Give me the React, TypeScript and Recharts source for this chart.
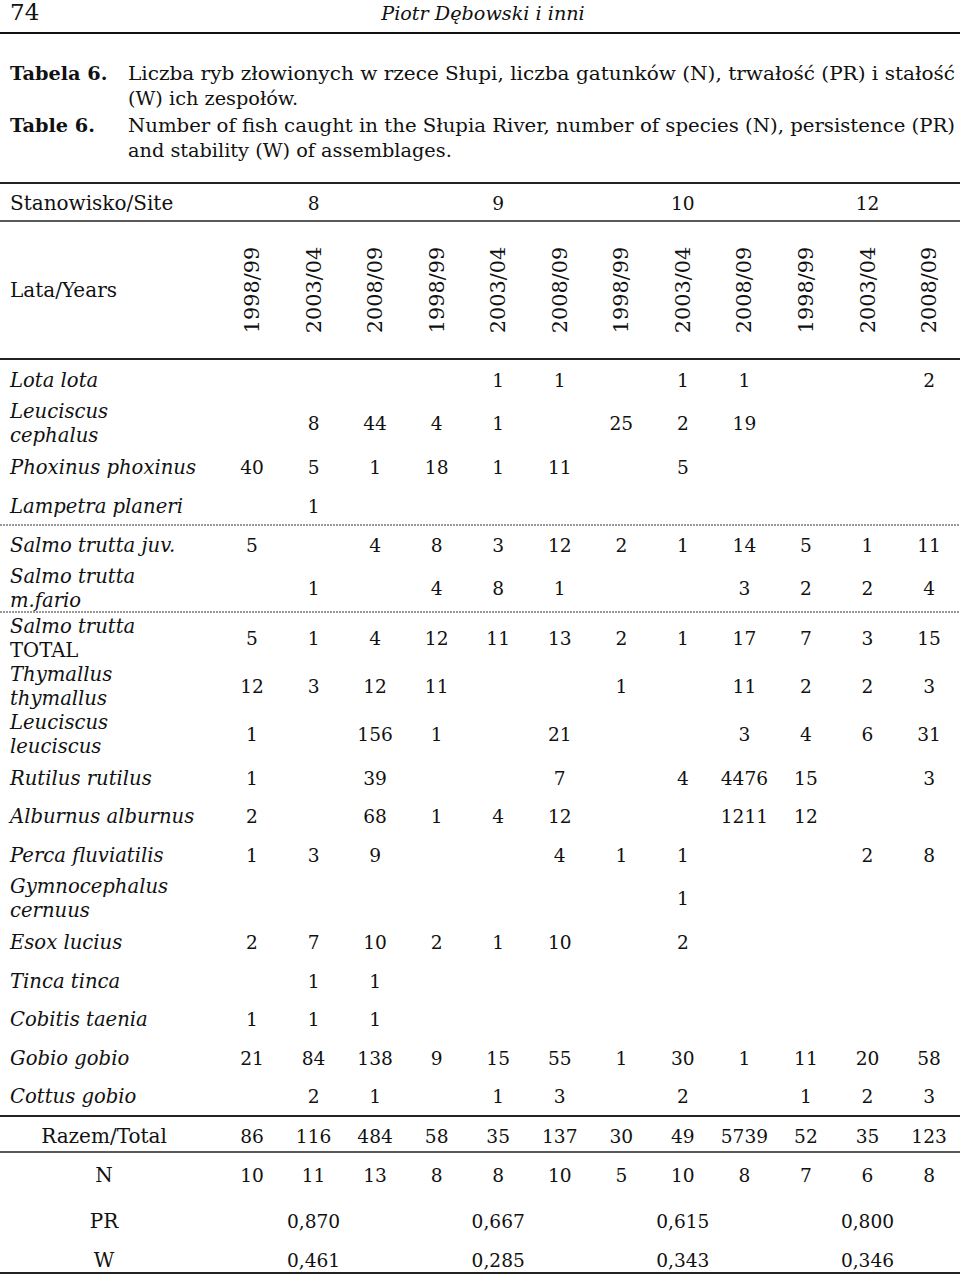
import React from "react";
import { ScatterChart, Scatter, XAxis, YAxis, ReferenceLine } from "recharts";

// ---------- DATA ----------
const sites = ["8", "9", "10", "12"];
const years = ["1998/99", "2003/04", "2008/09"];
type V = number | null;
const speciesLabels: string[][] = [
  ["Lota lota"],
  ["Leuciscus", "cephalus"],
  ["Phoxinus phoxinus"],
  ["Lampetra planeri"],
  ["Salmo trutta juv."],
  ["Salmo trutta", "m.fario"],
  ["Salmo trutta", "TOTAL"],
  ["Thymallus", "thymallus"],
  ["Leuciscus", "leuciscus"],
  ["Rutilus rutilus"],
  ["Alburnus alburnus"],
  ["Perca fluviatilis"],
  ["Gymnocephalus", "cernuus"],
  ["Esox lucius"],
  ["Tinca tinca"],
  ["Cobitis taenia"],
  ["Gobio gobio"],
  ["Cottus gobio"],
];
const _ = null;
const lotaLota: V[] = [_, _, _, _, 1, 1, _, 1, 1, _, _, 2];
const leuciscusCephalus: V[] = [_, 8, 44, 4, 1, _, 25, 2, 19, _, _, _];
const phoxinusPhoxinus: V[] = [40, 5, 1, 18, 1, 11, _, 5, _, _, _, _];
const lampetraPlaneri: V[] = [_, 1, _, _, _, _, _, _, _, _, _, _];
const salmoJuv: V[] = [5, _, 4, 8, 3, 12, 2, 1, 14, 5, 1, 11];
const salmoFario: V[] = [_, 1, _, 4, 8, 1, _, _, 3, 2, 2, 4];
const salmoTotal: V[] = [5, 1, 4, 12, 11, 13, 2, 1, 17, 7, 3, 15];
const thymallus: V[] = [12, 3, 12, 11, _, _, 1, _, 11, 2, 2, 3];
const leuciscusLeuciscus: V[] = [1, _, 156, 1, _, 21, _, _, 3, 4, 6, 31];
const rutilusRutilus: V[] = [1, _, 39, _, _, 7, _, 4, 4476, 15, _, 3];
const alburnusAlburnus: V[] = [2, _, 68, 1, 4, 12, _, _, 1211, 12, _, _];
const percaFluviatilis: V[] = [1, 3, 9, _, _, 4, 1, 1, _, _, 2, 8];
const gymnocephalus: V[] = [_, _, _, _, _, _, _, 1, _, _, _, _];
const esoxLucius: V[] = [2, 7, 10, 2, 1, 10, _, 2, _, _, _, _];
const tincaTinca: V[] = [_, 1, 1, _, _, _, _, _, _, _, _, _];
const cobitisTaenia: V[] = [1, 1, 1, _, _, _, _, _, _, _, _, _];
const gobioGobio: V[] = [21, 84, 138, 9, 15, 55, 1, 30, 1, 11, 20, 58];
const cottusGobio: V[] = [_, 2, 1, _, 1, 3, _, 2, _, 1, 2, 3];
const speciesValues: V[][] = [
  lotaLota, leuciscusCephalus, phoxinusPhoxinus, lampetraPlaneri, salmoJuv, salmoFario,
  salmoTotal, thymallus, leuciscusLeuciscus, rutilusRutilus, alburnusAlburnus, percaFluviatilis,
  gymnocephalus, esoxLucius, tincaTinca, cobitisTaenia, gobioGobio, cottusGobio,
];
const totals: number[] = [86, 116, 484, 58, 35, 137, 30, 49, 5739, 52, 35, 123];
const nSpecies: number[] = [10, 11, 13, 8, 8, 10, 5, 10, 8, 7, 6, 8];
const persistence: string[] = ["0,870", "0,667", "0,615", "0,800"];
const stability: string[] = ["0,461", "0,285", "0,343", "0,346"];

const pageNumber = "74";
const runningHead = "Piotr Dębowski i inni";
const captionPL = ["Liczba ryb złowionych w rzece Słupi, liczba gatunków (N), trwałość (PR) i stałość", "(W) ich zespołów."];
const captionEN = ["Number of fish caught in the Słupia River, number of species (N), persistence (PR)", "and stability (W) of assemblages."];

// ---------- LAYOUT ----------
const W = 960;
const H = 1275;
const colX0 = 252;
const colStep = 61.55;
const colX = (i: number) => colX0 + colStep * i;
const labelX = 10;
const centerLabelX = 104;
const rowY = [380, 423, 467, 506, 545, 588, 638, 686, 734, 778, 816, 855, 898, 942, 981, 1019, 1058, 1096];
const lineGap = 24;
const totalY = 1136;
const nY = 1175;
const prY = 1221;
const wY = 1260;
const siteY = 203;
const yearY = 290;

const FONT = "'DejaVu Serif', serif";

type Item = {
  x: number;
  y: number;
  text: string;
  kind: string;
  anchor?: string;
  len?: number;
};

const styles: Record<string, React.SVGProps<SVGTextElement>> = {
  num: { fontFamily: FONT, fontSize: 18.6 },
  label: { fontFamily: FONT, fontSize: 19.6, fontStyle: "italic" },
  labelRoman: { fontFamily: FONT, fontSize: 19.6 },
  head: { fontFamily: FONT, fontSize: 20 },
  headC: { fontFamily: FONT, fontSize: 20 },
  year: { fontFamily: FONT, fontSize: 20.8 },
  page: { fontFamily: FONT, fontSize: 23 },
  running: { fontFamily: FONT, fontSize: 19.2, fontStyle: "italic" },
  capBold: { fontFamily: FONT, fontSize: 19.3, fontWeight: "bold" },
  cap: { fontFamily: FONT, fontSize: 19.3 },
};

// build items
const items: Item[] = [];
items.push({ x: labelX, y: 12, text: pageNumber, kind: "page", anchor: "start" });
items.push({ x: 483, y: 13, text: runningHead, kind: "running", anchor: "middle" });
items.push({ x: labelX, y: 73, text: "Tabela 6.", kind: "capBold", anchor: "start" });
items.push({ x: labelX, y: 125, text: "Table 6.", kind: "capBold", anchor: "start" });
items.push({ x: 128, y: 73, text: captionPL[0], kind: "cap", anchor: "start", len: 827 });
items.push({ x: 128, y: 98, text: captionPL[1], kind: "cap", anchor: "start" });
items.push({ x: 128, y: 125, text: captionEN[0], kind: "cap", anchor: "start", len: 827 });
items.push({ x: 128, y: 150, text: captionEN[1], kind: "cap", anchor: "start" });

items.push({ x: labelX, y: siteY, text: "Stanowisko/Site", kind: "head", anchor: "start" });
sites.forEach((s, i) => items.push({ x: colX(i * 3 + 1), y: siteY, text: s, kind: "num", anchor: "middle" }));
items.push({ x: labelX, y: yearY, text: "Lata/Years", kind: "head", anchor: "start" });
sites.forEach((_s, si) =>
  years.forEach((yr, yi) => items.push({ x: colX(si * 3 + yi), y: yearY, text: yr, kind: "year", anchor: "rot" }))
);

speciesLabels.forEach((lines, r) => {
  const cy = rowY[r];
  const off = lines.length === 2 ? -lineGap / 2 : 0;
  lines.forEach((ln, li) =>
    items.push({
      x: labelX,
      y: cy + off + li * lineGap,
      text: ln,
      kind: ln === "TOTAL" ? "labelRoman" : "label",
      anchor: "start",
    })
  );
  speciesValues[r].forEach((v, c) => {
    if (v !== null) items.push({ x: colX(c), y: cy, text: String(v), kind: "num", anchor: "middle" });
  });
});

items.push({ x: centerLabelX, y: totalY, text: "Razem/Total", kind: "headC", anchor: "middle" });
totals.forEach((v, c) => items.push({ x: colX(c), y: totalY, text: String(v), kind: "num", anchor: "middle" }));
items.push({ x: centerLabelX, y: nY, text: "N", kind: "headC", anchor: "middle" });
nSpecies.forEach((v, c) => items.push({ x: colX(c), y: nY, text: String(v), kind: "num", anchor: "middle" }));
items.push({ x: centerLabelX, y: prY, text: "PR", kind: "headC", anchor: "middle" });
persistence.forEach((v, i) => items.push({ x: colX(i * 3 + 1), y: prY, text: v, kind: "num", anchor: "middle" }));
items.push({ x: centerLabelX, y: wY, text: "W", kind: "headC", anchor: "middle" });
stability.forEach((v, i) => items.push({ x: colX(i * 3 + 1), y: wY, text: v, kind: "num", anchor: "middle" }));

const TextShape = (props: any) => {
  const { cx, cy, payload } = props;
  if (cx == null || cy == null || !payload) return null;
  const st = styles[payload.kind] || {};
  if (payload.anchor === "rot") {
    return (
      <text
        x={cx}
        y={cy}
        textAnchor="middle"
        dominantBaseline="central"
        transform={`rotate(-90 ${cx} ${cy})`}
        fill="#111"
        {...st}
      >
        {payload.text}
      </text>
    );
  }
  const extra: any = {};
  if (payload.len) {
    extra.textLength = payload.len;
    extra.lengthAdjust = "spacingAndGlyphs";
  }
  return (
    <text x={cx} y={cy} textAnchor={payload.anchor} dominantBaseline="central" fill="#111" {...st} {...extra}>
      {payload.text}
    </text>
  );
};

export default function App() {
  return (
    <div style={{ position: "absolute", left: 0, top: 0, width: W, height: H, background: "#fff" }}>
      <ScatterChart width={W} height={H} margin={{ top: 0, right: 0, bottom: 0, left: 0 }}>
        <XAxis type="number" dataKey="x" domain={[0, W]} hide />
        <YAxis type="number" dataKey="y" domain={[0, H]} reversed hide />
        <ReferenceLine y={33} stroke="#111" strokeWidth={2} />
        <ReferenceLine y={183} stroke="#222" strokeWidth={2} />
        <ReferenceLine y={221} stroke="#222" strokeWidth={1.5} />
        <ReferenceLine y={359} stroke="#222" strokeWidth={2} />
        <ReferenceLine y={525} stroke="#777" strokeWidth={1.5} strokeDasharray="2 1" />
        <ReferenceLine y={612} stroke="#777" strokeWidth={1.5} strokeDasharray="2 1" />
        <ReferenceLine y={1116} stroke="#222" strokeWidth={2} />
        <ReferenceLine y={1152} stroke="#222" strokeWidth={1.5} />
        <ReferenceLine y={1273} stroke="#222" strokeWidth={2} />
        <Scatter data={items} shape={TextShape} isAnimationActive={false} />
      </ScatterChart>
    </div>
  );
}
